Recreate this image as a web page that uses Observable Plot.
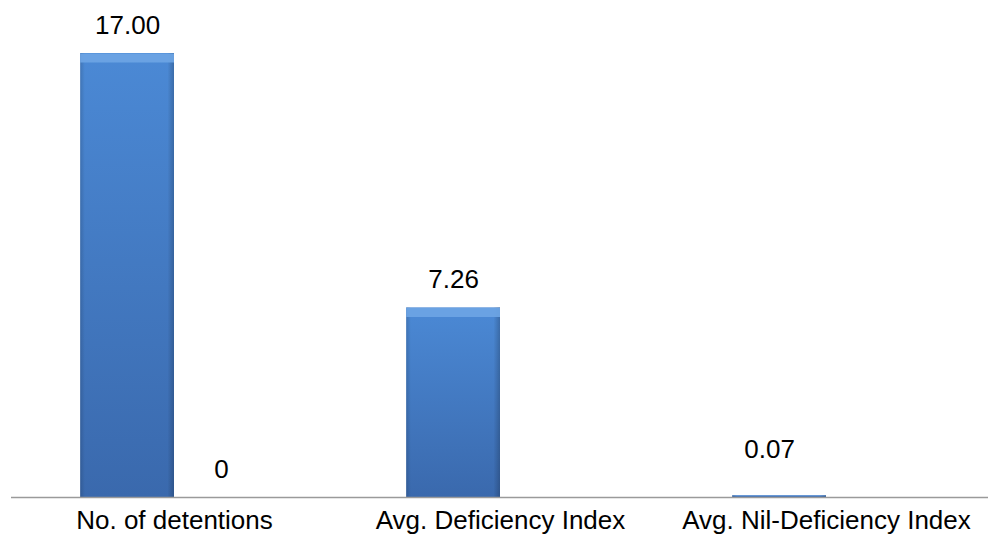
<!DOCTYPE html>
<html>
<head>
<meta charset="utf-8">
<script src="https://cdn.jsdelivr.net/npm/d3@7"></script>
<script src="https://cdn.jsdelivr.net/npm/@observablehq/plot@0.6"></script>
<style>
  html, body { margin: 0; padding: 0; background: #fff; }
  #chart svg { display: block; }
</style>
</head>
<body>
<div id="chart"></div>
<script>
const categories = ["No. of detentions", "Avg. Deficiency Index", "Avg. Nil-Deficiency Index"];
const seriesNames = ["Series 1", "Series 2"];
const series1Values = [17.00, 7.26, 0.07];
const series2Values = [0, null, null];
const series1Labels = ["17.00", "7.26", "0.07"];
const series2Labels = ["0", null, null];

const rows = [];
categories.forEach((c, i) => {
  if (series1Values[i] != null) rows.push({category: c, series: seriesNames[0], value: series1Values[i], label: series1Labels[i]});
  if (series2Values[i] != null) rows.push({category: c, series: seriesNames[1], value: series2Values[i], label: series2Labels[i]});
});

const font = "'Liberation Sans', Arial, Helvetica, sans-serif";
const small = d => d.value > 0 && d.value < 0.5;
const tall = d => d.value >= 1;

const chart = Plot.plot({
  width: 988,
  height: 546,
  marginLeft: 10,
  marginRight: -2,
  marginTop: 53,
  marginBottom: 49,
  style: {fontFamily: font, background: "#fff"},
  fx: {domain: categories, padding: 0, axis: null},
  x: {domain: seriesNames, paddingInner: 0, paddingOuter: 0.737, round: false, axis: null},
  y: {domain: [0, 17], axis: null},
  marks: [
    Plot.barY(rows, {fx: "category", x: "series", y: "value", fill: "url(#barGrad)", ariaLabel: "bars-main"}),
    Plot.barY(rows, {fx: "category", x: "series", y: "value", fill: "url(#edgeGrad)"}),
    Plot.tickY(rows.filter(tall), {fx: "category", x: "series", y: "value", stroke: "#6ea5e4", strokeWidth: 9, dy: 4.5, strokeOpacity: 0.9}),
    Plot.ruleY([0], {stroke: "#9a9a9a", strokeWidth: 1.5}),
    Plot.text(rows.filter(d => !small(d)), {fx: "category", x: "series", y: "value", text: "label", dy: -28, fontSize: 26, fill: "#000"}),
    Plot.text(rows.filter(small), {fx: "category", x: "series", y: "value", text: "label", dy: -46, dx: -10, fontSize: 26, fill: "#000"}),
    Plot.text(categories, {fx: d => d, frameAnchor: "bottom", dy: 31, text: d => d, fontSize: 26, fill: "#000"})
  ]
});

const svg = d3.select(chart);
const defs = svg.insert("defs", ":first-child");
const g1 = defs.append("linearGradient").attr("id", "barGrad").attr("x1", 0).attr("y1", 0).attr("x2", 0).attr("y2", 1);
g1.append("stop").attr("offset", "0%").attr("stop-color", "#4b89d5");
g1.append("stop").attr("offset", "100%").attr("stop-color", "#3a69ad");
const g2 = defs.append("linearGradient").attr("id", "edgeGrad").attr("x1", 0).attr("y1", 0).attr("x2", 1).attr("y2", 0);
g2.append("stop").attr("offset", "0%").attr("stop-color", "#000").attr("stop-opacity", 0.14);
g2.append("stop").attr("offset", "5%").attr("stop-color", "#000").attr("stop-opacity", 0.0);
g2.append("stop").attr("offset", "93%").attr("stop-color", "#000").attr("stop-opacity", 0.0);
g2.append("stop").attr("offset", "100%").attr("stop-color", "#000").attr("stop-opacity", 0.2);

svg.selectAll("g[aria-label='bars-main']").style("filter", "drop-shadow(2px 1px 1.5px rgba(0,0,0,0.3))");

document.getElementById("chart").appendChild(chart);
</script>
</body>
</html>
